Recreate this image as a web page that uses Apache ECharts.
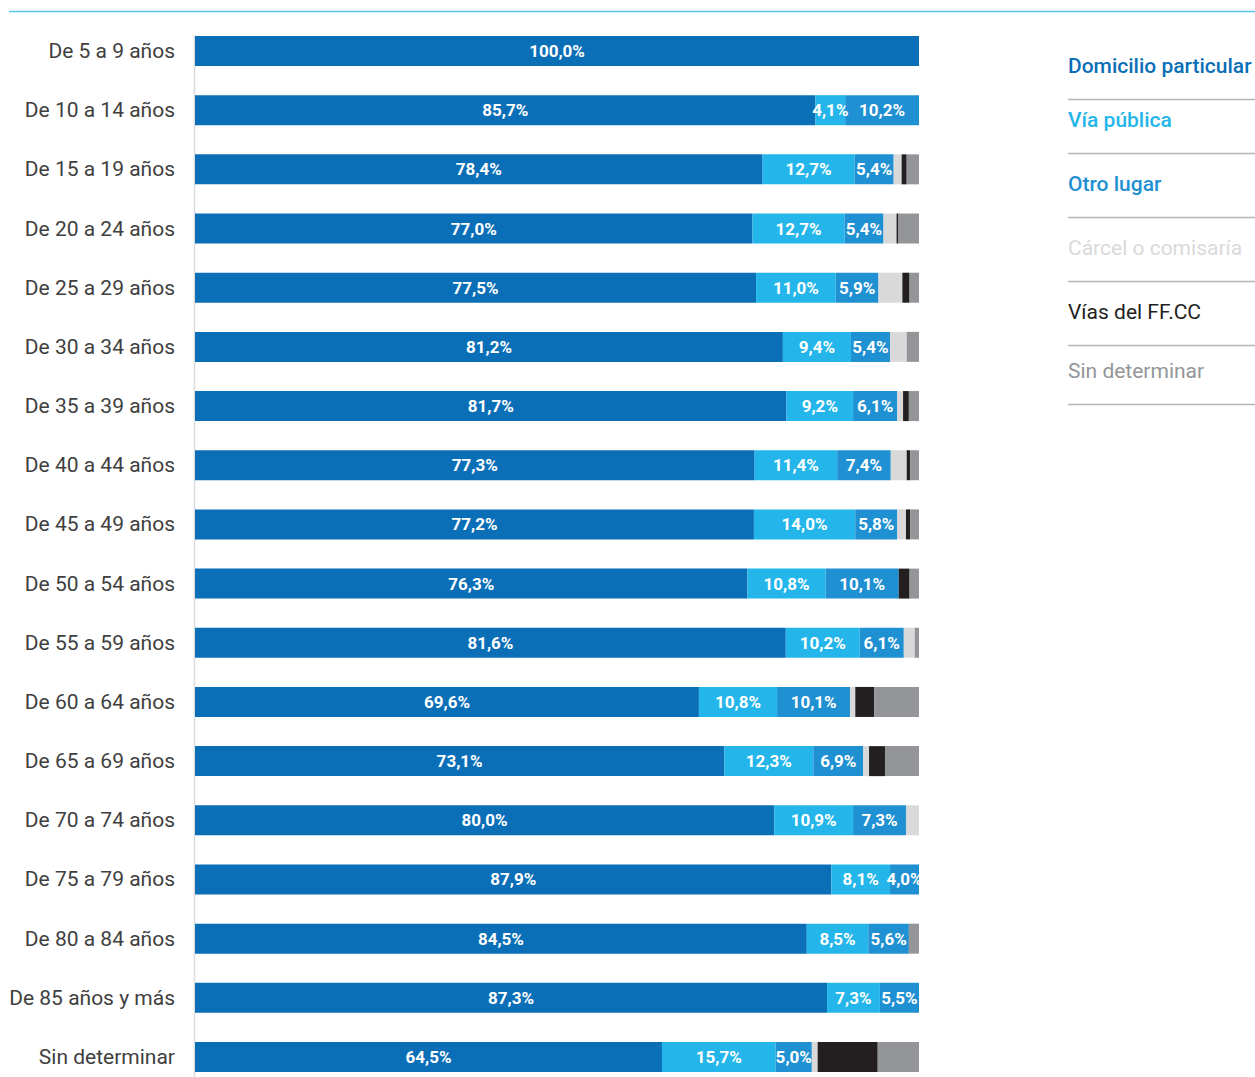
<!DOCTYPE html>
<html>
<head>
<meta charset="utf-8">
<script src="https://cdn.jsdelivr.net/npm/echarts@6/dist/echarts.min.js"></script>
<style>
html,body{margin:0;padding:0;background:#fff;overflow:hidden;}
#chart{width:1255px;height:1100px;}
</style>
</head>
<body>
<div id="chart"></div>
<script>
const categories = ["De 5 a 9 años","De 10 a 14 años","De 15 a 19 años","De 20 a 24 años","De 25 a 29 años","De 30 a 34 años","De 35 a 39 años","De 40 a 44 años","De 45 a 49 años","De 50 a 54 años","De 55 a 59 años","De 60 a 64 años","De 65 a 69 años","De 70 a 74 años","De 75 a 79 años","De 80 a 84 años","De 85 años y más","Sin determinar"];
const seriesNames = ["Domicilio particular","Vía pública","Otro lugar","Cárcel o comisaría","Vías del FF.CC","Sin determinar"];
const domicilio = [100.0,85.7,78.4,77.0,77.5,81.2,81.7,77.3,77.2,76.3,81.6,69.6,73.1,80.0,87.9,84.5,87.3,64.5];
const viaPublica = [0,4.1,12.7,12.7,11.0,9.4,9.2,11.4,14.0,10.8,10.2,10.8,12.3,10.9,8.1,8.5,7.3,15.7];
const otroLugar = [0,10.2,5.4,5.4,5.9,5.4,6.1,7.4,5.8,10.1,6.1,10.1,6.9,7.3,4.0,5.6,5.5,5.0];
const carcel = [0,0,1.1,1.8,3.3,2.3,0.8,2.2,1.2,0,1.5,0.7,0.8,1.8,0,0,0,0.8];
const viasFFCC = [0,0,0.7,0.2,1.0,0,0.8,0.5,0.6,1.5,0,2.6,2.2,0,0,0,0,8.3];
const sinDeterminar = [0,0,1.7,2.9,1.3,1.7,1.4,1.2,1.2,1.3,0.6,6.2,4.7,0,0,1.4,0,5.7];

const colors = ["#0b6fb8","#24b6ea","#1f90d2","#d9d9d9","#231f20","#939598"];
const values = [domicilio,viaPublica,otroLugar,carcel,viasFFCC,sinDeterminar];
const labeled = [true,true,true,false,false,false];

const fmt = v => v.toFixed(1).replace('.', ',') + '%';

const series = seriesNames.map((name,i)=>({
  name: name,
  type: 'bar',
  stack: 'total',
  barWidth: 30,
  data: values[i],
  itemStyle: {color: colors[i]},
  emphasis: {disabled: true},
  label: {
    show: labeled[i],
    position: 'inside',
    color: '#fff',
    fontFamily: 'Roboto',
    fontWeight: 'bold',
    fontSize: 17,
    formatter: p => p.value > 0 ? fmt(p.value) : ''
  }
}));

const legendY = [66,120,184,248,312,371];
const sepY = [99,153,217,281,345,404];
const graphic = [
  {type:'line', shape:{x1:9,y1:11.5,x2:1255,y2:11.5}, style:{stroke:'#5cc3ea', lineWidth:1.5}},
  {type:'line', shape:{x1:194.5,y1:35,x2:194.5,y2:1100}, style:{stroke:'#dcdcdc', lineWidth:1.5}}
];
seriesNames.forEach((n,i)=>{
  graphic.push({type:'text', left:1068, top:legendY[i]-11, style:{text:n, fill:colors[i], font:(i<3?'500 ':'400 ')+'21px Roboto'}});
  graphic.push({type:'line', shape:{x1:1068,y1:sepY[i]+0.5,x2:1255,y2:sepY[i]+0.5}, style:{stroke:'#b5b5b5', lineWidth:1.5}});
});

const chart = echarts.init(document.getElementById('chart'), null, {renderer:'svg'});
chart.setOption({
  animation: false,
  grid: {left:195, right:336, top:21.4, height:1065.2, containLabel:false},
  xAxis: {type:'value', min:0, max:100, show:false},
  yAxis: {
    type:'category',
    data: categories,
    inverse: true,
    axisTick: {show:false},
    axisLine: {show:false},
    axisLabel: {margin:20, color:'#404040', fontFamily:'Roboto', fontSize:21}
  },
  series: series,
  graphic: graphic
});
</script>
</body>
</html>
